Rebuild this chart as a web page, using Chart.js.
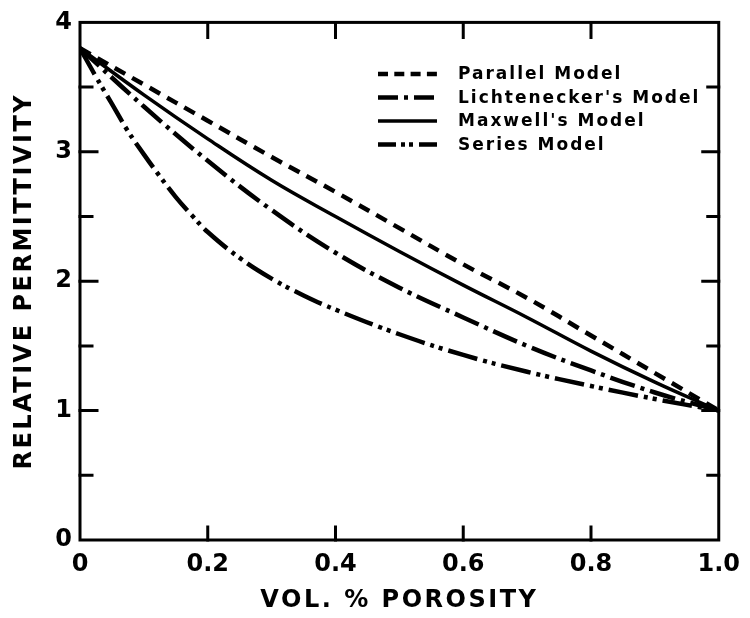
<!DOCTYPE html>
<html>
<head>
<meta charset="utf-8">
<script src="https://cdn.jsdelivr.net/npm/chart.js@4.4.1/dist/chart.umd.min.js"></script>
<style>
  html, body { margin: 0; padding: 0; background: #fff; }
</style>
</head>
<body>
<canvas id="chart" width="750" height="618"></canvas>
<script>
// ---------------------------------------------
// Relative permittivity vs porosity (4 models)
// ---------------------------------------------

// porosity (volume fraction) for the three gentle curves
const porosity = [0, 0.1, 0.2, 0.3, 0.4, 0.5, 0.6, 0.7, 0.8, 0.9, 1.0];
const parallelModel = [3.80, 3.52, 3.24, 2.96, 2.69, 2.41, 2.13, 1.87, 1.58, 1.29, 1.00];
const lichteneckerModel = [3.80, 3.35, 2.93, 2.55, 2.22, 1.95, 1.72, 1.50, 1.31, 1.14, 1.00];
const maxwellModel = [3.80, 3.44, 3.10, 2.78, 2.50, 2.23, 1.97, 1.72, 1.46, 1.22, 1.00];

// series model bends hard near zero, so it is read at more points
const porositySeries = [0, 0.025, 0.05, 0.075, 0.1, 0.125, 0.15, 0.175, 0.2, 0.25, 0.3, 0.35, 0.4, 0.5, 0.6, 0.7, 0.8, 0.9, 1.0];
const seriesModel = [3.80, 3.58, 3.37, 3.16, 2.98, 2.81, 2.65, 2.51, 2.38, 2.18, 2.02, 1.89, 1.78, 1.59, 1.43, 1.30, 1.19, 1.09, 1.00];

// axes
const xTicks = [0, 0.2, 0.4, 0.6, 0.8, 1.0];
const xTickLabels = ['0', '0.2', '0.4', '0.6', '0.8', '1.0'];
const yTicks = [0, 1, 2, 3, 4];
const yMinorTicks = [0.5, 1.5, 2.5, 3.5];
const xTitle = 'VOL. % POROSITY';
const yTitle = 'RELATIVE PERMITTIVITY';

const FONT = "'DejaVu Sans', 'Liberation Sans', sans-serif";

function pts(xs, ys) {
    return xs.map((x, i) => ({ x: x, y: ys[i] }));
}

function lineSet(label, xs, ys, dash, width, legendDash) {
    return {
        label: label,
        data: pts(xs, ys),
        borderColor: '#000',
        borderWidth: width,
        borderDash: dash,
        borderCapStyle: 'butt',
        pointRadius: 0,
        fill: false,
        tension: 0.4,
        legendDash: legendDash
    };
}

// frame, inward ticks, axis titles and legend
const framePlugin = {
    id: 'frame',
    afterDraw(chart) {
        const ctx = chart.ctx;
        const { left, right, top, bottom } = chart.chartArea;
        const xs = chart.scales.x, ys = chart.scales.y;

        ctx.save();
        ctx.strokeStyle = '#000';
        ctx.lineWidth = 3;
        ctx.lineCap = 'square';
        ctx.strokeRect(left, top, right - left, bottom - top);

        ctx.beginPath();
        xTicks.slice(1, -1).forEach(v => {
            const px = xs.getPixelForValue(v);
            ctx.moveTo(px, bottom); ctx.lineTo(px, bottom - 13);
            ctx.moveTo(px, top); ctx.lineTo(px, top + 15);
        });
        yTicks.slice(1, -1).forEach(v => {
            const py = ys.getPixelForValue(v);
            ctx.moveTo(left, py); ctx.lineTo(left + 17, py);
            ctx.moveTo(right, py); ctx.lineTo(right - 16, py);
        });
        yMinorTicks.forEach(v => {
            const py = ys.getPixelForValue(v);
            ctx.moveTo(left, py); ctx.lineTo(left + 12, py);
            ctx.moveTo(right, py); ctx.lineTo(right - 11, py);
        });
        ctx.stroke();

        // axis titles
        ctx.fillStyle = '#000';
        ctx.font = 'bold 24px ' + FONT;
        ctx.letterSpacing = '2.5px';
        ctx.textAlign = 'center';
        ctx.textBaseline = 'middle';
        ctx.fillText(xTitle, (left + right) / 2, 601);
        ctx.save();
        ctx.translate(25, (top + bottom) / 2);
        ctx.rotate(-Math.PI / 2);
        ctx.fillText(yTitle, 0, 0);
        ctx.restore();

        // legend
        ctx.font = 'bold 17px ' + FONT;
        ctx.letterSpacing = '2px';
        ctx.textAlign = 'left';
        chart.data.datasets.forEach((ds, i) => {
            const yy = 74 + i * 23.5;
            ctx.beginPath();
            ctx.lineWidth = ds.borderWidth;
            ctx.lineCap = 'butt';
            ctx.setLineDash(ds.legendDash || []);
            ctx.moveTo(378, yy);
            ctx.lineTo(437, yy);
            ctx.stroke();
            ctx.setLineDash([]);
            ctx.fillText(ds.label, 458, yy + 1);
        });
        ctx.restore();
    }
};

new Chart(document.getElementById('chart'), {
    type: 'line',
    data: {
        datasets: [
            lineSet('Parallel Model', porosity, parallelModel, [12, 8], 4.5, [10, 6.3]),
            lineSet("Lichtenecker's Model", porosity, lichteneckerModel, [26, 6, 4, 6], 4.5, [20, 6, 4, 6]),
            lineSet("Maxwell's Model", porosity, maxwellModel, [], 3.5, []),
            lineSet('Series Model', porositySeries, seriesModel, [30, 6, 4, 5, 4, 6], 4.5, [18, 5, 4, 4, 4, 6])
        ]
    },
    options: {
        responsive: false,
        devicePixelRatio: 1,
        animation: false,
        layout: { padding: { top: 22, right: 20, left: 0, bottom: 0 } },
        plugins: { legend: { display: false }, tooltip: { enabled: false } },
        scales: {
            x: {
                type: 'linear',
                min: 0,
                max: 1,
                grid: { display: false, drawTicks: false },
                border: { display: false },
                afterBuildTicks: s => { s.ticks = xTicks.map(v => ({ value: v })); },
                afterFit: s => { s.height = 78; },
                ticks: {
                    autoSkip: false,
                    maxRotation: 0,
                    padding: 10,
                    color: '#000',
                    font: { family: FONT, size: 24, weight: 'bold' },
                    callback: (v, i) => xTickLabels[i]
                }
            },
            y: {
                type: 'linear',
                min: 0,
                max: 4,
                grid: { display: false, drawTicks: false },
                border: { display: false },
                afterBuildTicks: s => { s.ticks = yTicks.map(v => ({ value: v })); },
                afterFit: s => { s.width = 80; },
                ticks: {
                    padding: 8,
                    color: '#000',
                    font: { family: FONT, size: 24, weight: 'bold' },
                    callback: v => String(v)
                }
            }
        }
    },
    plugins: [framePlugin]
});
</script>
</body>
</html>
